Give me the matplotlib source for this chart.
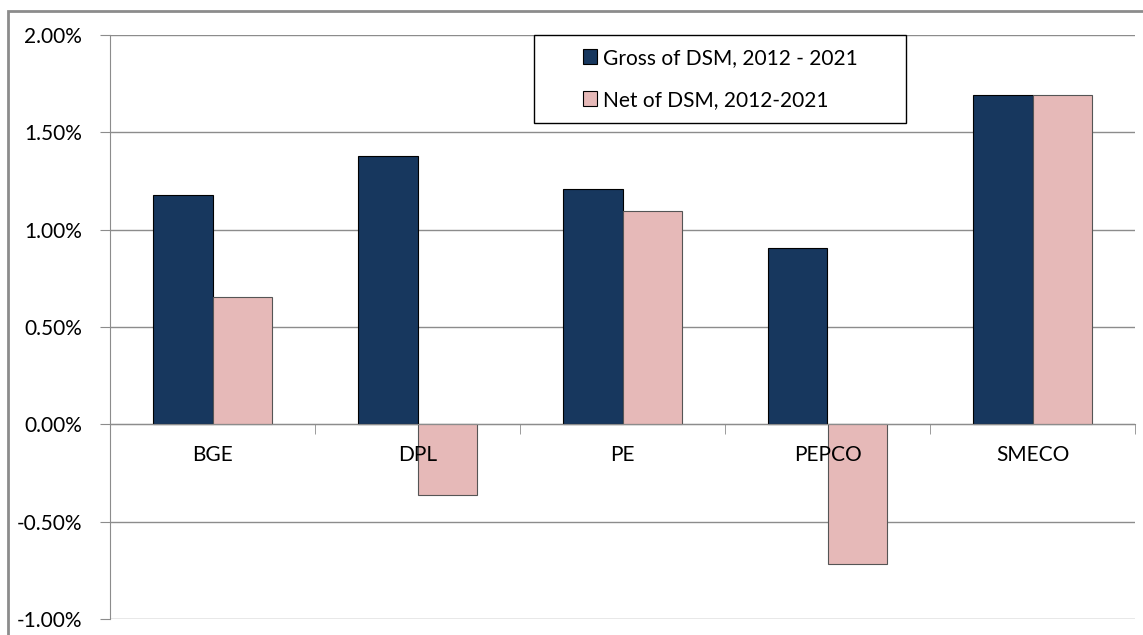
import numpy as np
import matplotlib
matplotlib.use('Agg')
import matplotlib.pyplot as plt
from matplotlib.ticker import FuncFormatter, FixedLocator
from matplotlib.patches import Rectangle

utilities = ['BGE', 'DPL', 'PE', 'PEPCO', 'SMECO']
gross = [1.18, 1.38, 1.21, 0.905, 1.69]
net = [0.655, -0.365, 1.095, -0.72, 1.69]
series_names = ['Gross of DSM, 2012 - 2021', 'Net of DSM, 2012-2021']

plt.rcParams['font.family'] = ['Lato', 'DejaVu Sans']
fs = 15

W, H = 1143, 635
fig = plt.figure(figsize=(W / 100, H / 100), dpi=100)
ax = fig.add_axes([110 / W, 16 / H, 1025 / W, 584 / H])

x = np.arange(len(utilities))
bw = 0.288
ax.bar(x - bw / 2, gross, bw, color='#17375E', edgecolor='black', linewidth=0.8,
       label=series_names[0], zorder=2)
ax.bar(x + bw / 2, net, bw, color='#E6B9B8', edgecolor='#555555', linewidth=0.8,
       label=series_names[1], zorder=2)

ax.set_axisbelow(True)
ax.xaxis.set_zorder(5)

ax.set_xlim(-0.5, len(utilities) - 0.5)
ax.set_ylim(-1.0, 2.0)
ax.set_yticks(np.arange(-1.0, 2.01, 0.5))
ax.yaxis.set_major_formatter(FuncFormatter(lambda v, p: f'{v:.2f}%'))
ax.yaxis.grid(True, color='#8c8c8c', linewidth=1.0)

for s in ['top', 'right']:
    ax.spines[s].set_visible(False)
ax.spines['left'].set_color('#8c8c8c')
ax.spines['bottom'].set_position(('data', 0))
ax.spines['bottom'].set_color('#8c8c8c')
ax.spines['bottom'].set_zorder(4)

ax.set_xticks(x)
ax.set_xticklabels(utilities)
ax.xaxis.set_minor_locator(FixedLocator(np.arange(-0.5, len(utilities), 1.0)))
ax.tick_params(axis='x', which='major', length=0, pad=15, labelsize=fs)
ax.tick_params(axis='x', which='minor', length=7, color='#8c8c8c', direction='out')
ax.tick_params(axis='y', length=7, color='#8c8c8c', pad=13, labelsize=fs)

# legend box drawn separately, entries centred inside
box = Rectangle((534 / W, 1 - 123 / H), 372 / W, 88 / H, transform=fig.transFigure,
                facecolor='white', edgecolor='black', linewidth=1.0, zorder=6, clip_on=False)
ax.add_patch(box)
leg = ax.legend(loc='center', bbox_to_anchor=(720 / W, 1 - 79 / H),
                bbox_transform=fig.transFigure, fontsize=fs, frameon=False,
                handlelength=0.7, handleheight=0.7, handletextpad=0.25,
                labelspacing=1.05, borderpad=0, borderaxespad=0)
leg._legend_box.align = 'left'
leg.set_zorder(7)
for p in leg.get_patches():
    p.set_edgecolor('black')
    p.set_linewidth(0.8)

# outer chart frame
fig.patches.append(Rectangle((8 / W, -0.05), 1.1, 1 - 11 / H + 0.05, transform=fig.transFigure,
                             fill=False, edgecolor='#8c8c8c', linewidth=2))

fig.savefig('out.png', dpi=100)
